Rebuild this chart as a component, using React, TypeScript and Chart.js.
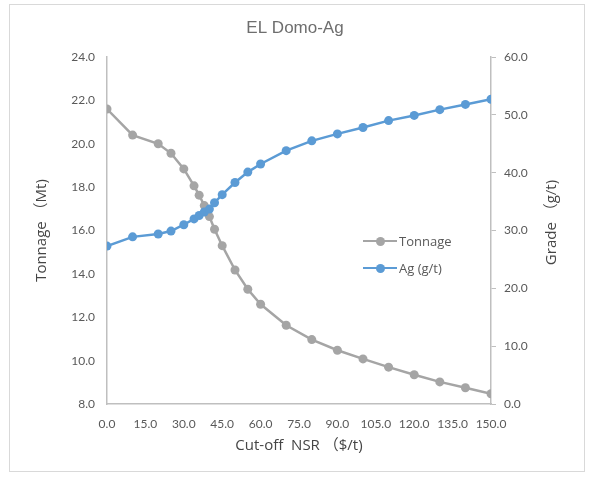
import { useEffect, useRef } from "react";
import Chart from "chart.js/auto";

// cut-off NSR ($/t) and the two series
const cutoff = [0, 10, 20, 25, 30, 34, 36, 38, 40, 42, 45, 50, 55, 60, 70, 80, 90, 100, 110, 120, 130, 140, 150];
const tonnage = [21.6, 20.4, 20.0, 19.56, 18.84, 18.06, 17.63, 17.15, 16.64, 16.06, 15.3, 14.18, 13.29, 12.6, 11.63, 10.97, 10.48, 10.08, 9.7, 9.35, 9.02, 8.75, 8.47];
const agGrade = [27.3, 28.9, 29.4, 29.9, 31.0, 32.0, 32.6, 33.2, 33.7, 34.8, 36.2, 38.3, 40.1, 41.5, 43.8, 45.5, 46.7, 47.8, 49.0, 49.9, 50.9, 51.8, 52.7];

const xTicks = [0, 15, 30, 45, 60, 75, 90, 105, 120, 135, 150];
const tonnageTicks = [8, 10, 12, 14, 16, 18, 20, 22, 24];
const gradeTicks = [0, 10, 20, 30, 40, 50, 60];

const GRAY = "#a5a5a5";
const BLUE = "#5b9bd5";
const TEXT = "#595959";
const TITLE_TEXT = "#454545";
const AXIS = "#bfbfbf";
const tickFont = { family: "Lato, sans-serif", size: 12 };
const titleFont = { family: "'Open Sans', 'Noto Sans CJK SC', sans-serif", size: 15 };

// right axis title reads bottom-to-top like Excel, chart.js would flip it
const gradeTitle = {
  id: "gradeTitle",
  afterDraw(chart: any) {
    const { ctx, chartArea } = chart;
    const right = chart.scales.y1.right;
    ctx.save();
    ctx.translate(right - 38, (chartArea.top + chartArea.bottom) / 2 - 8);
    ctx.rotate(-Math.PI / 2);
    ctx.font = "15px 'Open Sans', 'Noto Sans CJK SC', sans-serif";
    ctx.fillStyle = TITLE_TEXT;
    ctx.textAlign = "center";
    ctx.textBaseline = "middle";
    ctx.fillText("Grade （g/t)", 0, 0);
    ctx.restore();
  },
};

function LegendRow({ color, label, top }: { color: string; label: string; top: number }) {
  return (
    <div style={{ position: "absolute", left: 363, top, height: 16, display: "flex", alignItems: "center" }}>
      <div style={{ position: "relative", width: 34, height: 2.5, background: color }}>
        <div
          style={{
            position: "absolute",
            left: 12.5,
            top: -3.25,
            width: 9,
            height: 9,
            borderRadius: "50%",
            background: color,
          }}
        />
      </div>
      <span style={{ marginLeft: 2, font: "13px 'Open Sans', sans-serif", color: TEXT }}>{label}</span>
    </div>
  );
}

export default function App() {
  const canvasRef = useRef<HTMLCanvasElement | null>(null);
  const chartRef = useRef<Chart | null>(null);

  useEffect(() => {
    document.body.style.margin = "0";
    if (!canvasRef.current) return;
    if (chartRef.current) chartRef.current.destroy();

    chartRef.current = new Chart(canvasRef.current, {
      type: "scatter",
      data: {
        datasets: [
          {
            label: "Tonnage",
            data: cutoff.map((x, i) => ({ x, y: tonnage[i] })),
            yAxisID: "y",
            showLine: true,
            borderColor: GRAY,
            backgroundColor: GRAY,
            borderWidth: 2.5,
            pointRadius: 4.5,
            pointBorderWidth: 0,
            order: 1,
          },
          {
            label: "Ag (g/t)",
            data: cutoff.map((x, i) => ({ x, y: agGrade[i] })),
            yAxisID: "y1",
            showLine: true,
            borderColor: BLUE,
            backgroundColor: BLUE,
            borderWidth: 2.5,
            pointRadius: 4.5,
            pointBorderWidth: 0,
            order: 0,
          },
        ],
      },
      options: {
        animation: false,
        responsive: false,
        layout: { padding: 0 },
        plugins: {
          legend: { display: false },
          tooltip: { enabled: false },
          title: {
            display: true,
            text: "EL Domo-Ag",
            color: "#6e6e6e",
            font: { family: "'Liberation Sans', Arial, sans-serif", size: 17, weight: "normal" },
            padding: { top: 18, bottom: 18.6 },
          },
        },
        scales: {
          x: {
            type: "linear",
            min: 0,
            max: 150,
            afterBuildTicks: (scale: any) => {
              scale.ticks = xTicks.map((v) => ({ value: v }));
            },
            afterFit: (scale: any) => {
              scale.height = 75;
            },
            grid: { display: false, drawTicks: false },
            border: { display: true, color: AXIS, width: 1.5 },
            ticks: {
              color: TEXT,
              font: tickFont,
              padding: 13,
              maxRotation: 0,
              autoSkip: false,
              callback: (v: any) => Number(v).toFixed(1),
            },
            title: {
              display: true,
              text: "Cut-off  NSR （$/t)",
              color: TITLE_TEXT,
              font: titleFont,
              padding: { top: 0, bottom: 24 },
            },
          },
          y: {
            type: "linear",
            position: "left",
            min: 8,
            max: 24,
            afterBuildTicks: (scale: any) => {
              scale.ticks = tonnageTicks.map((v) => ({ value: v }));
            },
            afterFit: (scale: any) => {
              scale.width = 107;
            },
            grid: { display: false, drawTicks: false },
            border: { display: true, color: AXIS, width: 1.5 },
            ticks: {
              color: TEXT,
              font: tickFont,
              padding: 12,
              callback: (v: any) => Number(v).toFixed(1),
            },
            title: {
              display: true,
              text: "Tonnage （Mt)",
              color: TITLE_TEXT,
              font: titleFont,
              padding: { top: 33, bottom: 0 },
            },
          },
          y1: {
            type: "linear",
            position: "right",
            min: 0,
            max: 60,
            afterBuildTicks: (scale: any) => {
              scale.ticks = gradeTicks.map((v) => ({ value: v }));
            },
            afterFit: (scale: any) => {
              scale.width = 99;
            },
            grid: { display: true, drawOnChartArea: false, drawTicks: true, tickLength: 5, color: AXIS, lineWidth: 1 },
            border: { display: true, color: AXIS, width: 1.5 },
            ticks: {
              color: TEXT,
              font: tickFont,
              padding: 8,
              callback: (v: any) => Number(v).toFixed(1),
            },
          },
        },
      },
      plugins: [gradeTitle],
    });

    return () => {
      chartRef.current?.destroy();
      chartRef.current = null;
    };
  }, []);

  return (
    <div style={{ position: "relative", width: 590, height: 479 }}>
      <canvas ref={canvasRef} width={590} height={479} style={{ display: "block" }} />
      <div
        style={{
          position: "absolute",
          left: 9,
          top: 4,
          width: 576,
          height: 468,
          border: "1px solid #d9d9d9",
          pointerEvents: "none",
          boxSizing: "border-box",
        }}
      />
      <LegendRow color={GRAY} label="Tonnage" top={233} />
      <LegendRow color={BLUE} label="Ag (g/t)" top={260} />
    </div>
  );
}
